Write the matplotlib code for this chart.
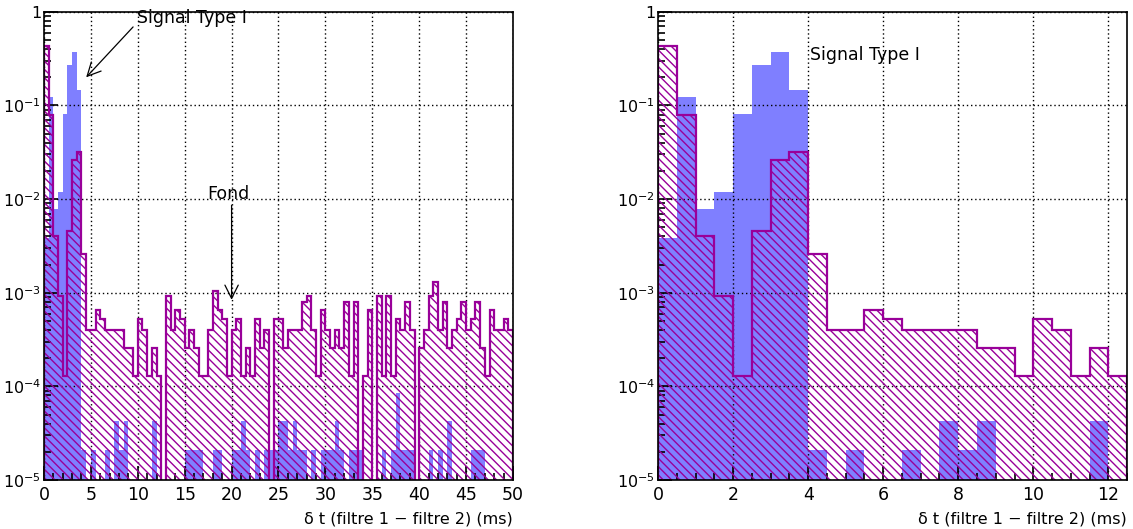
import numpy as np
import matplotlib
matplotlib.use("Agg")
import matplotlib.pyplot as plt
from matplotlib.ticker import FixedLocator, MultipleLocator, NullFormatter

# -- data: normalised delta-t distributions, 0.5 ms bins from 0 to 50 ms --
bin_width = 0.5
n_bins = 100

# background ("Fond"), read bin by bin
fond = [
    0.43, 0.080, 0.0040, 9.2e-4, 1.3e-4, 0.0046, 0.026, 0.0316, 0.0026, 4.0e-4,
    4.0e-4, 6.6e-4, 5.3e-4, 4.0e-4, 4.0e-4, 4.0e-4, 4.0e-4, 2.6e-4, 2.6e-4, 1.3e-4,
    5.3e-4, 4.0e-4, 1.3e-4, 2.6e-4, 1.3e-4, 0.0, 9.2e-4, 4.0e-4, 6.6e-4, 5.3e-4,
    2.6e-4, 4.0e-4, 2.6e-4, 1.3e-4, 1.3e-4, 4.0e-4, 1.05e-3, 6.6e-4, 5.3e-4, 1.3e-4,
    4.0e-4, 5.3e-4, 1.3e-4, 2.6e-4, 1.3e-4, 5.3e-4, 2.6e-4, 4.0e-4, 0.0, 5.3e-4,
    5.3e-4, 2.6e-4, 4.0e-4, 4.0e-4, 4.0e-4, 7.9e-4, 9.2e-4, 4.0e-4, 1.3e-4, 6.6e-4,
    4.0e-4, 2.6e-4, 4.0e-4, 2.6e-4, 7.9e-4, 1.3e-4, 7.9e-4, 0.0, 1.3e-4, 6.6e-4,
    0.0, 9.2e-4, 1.3e-4, 9.2e-4, 1.3e-4, 5.3e-4, 4.0e-4, 7.9e-4, 4.0e-4, 0.0,
    2.6e-4, 4.0e-4, 9.2e-4, 1.3e-3, 4.0e-4, 7.9e-4, 2.6e-4, 4.0e-4, 5.3e-4, 7.9e-4,
    4.0e-4, 5.3e-4, 7.9e-4, 2.6e-4, 1.3e-4, 6.6e-4, 4.0e-4, 4.0e-4, 5.3e-4, 4.0e-4,
]

# signal type I
signal = [
    0.0038, 0.123, 0.0078, 0.012, 0.082, 0.27, 0.37, 0.146, 2.1e-5, 0.0,
    2.1e-5, 0.0, 0.0, 2.1e-5, 0.0, 4.3e-5, 2.1e-5, 4.3e-5, 0.0, 0.0,
    0.0, 0.0, 0.0, 4.3e-5, 0.0, 0.0, 0.0, 0.0, 0.0, 0.0,
    2.1e-5, 2.1e-5, 2.1e-5, 2.1e-5, 0.0, 0.0, 2.1e-5, 2.1e-5, 0.0, 0.0,
    2.1e-5, 2.1e-5, 4.3e-5, 2.1e-5, 0.0, 2.1e-5, 0.0, 2.1e-5, 2.1e-5, 2.1e-5,
    4.3e-5, 4.3e-5, 2.1e-5, 4.3e-5, 2.1e-5, 2.1e-5, 0.0, 2.1e-5, 0.0, 2.1e-5,
    2.1e-5, 2.1e-5, 4.3e-5, 2.1e-5, 0.0, 2.1e-5, 2.1e-5, 2.1e-5, 0.0, 0.0,
    0.0, 0.0, 2.1e-5, 0.0, 2.1e-5, 8.6e-5, 2.1e-5, 2.1e-5, 2.1e-5, 0.0,
    0.0, 0.0, 2.1e-5, 0.0, 2.1e-5, 0.0, 4.3e-5, 0.0, 0.0, 0.0,
    0.0, 2.1e-5, 2.1e-5, 2.1e-5, 0.0, 0.0, 0.0, 0.0, 0.0, 0.0,
]

y_ticks = [1e-5, 1e-4, 1e-3, 1e-2, 1e-1, 1]
y_labels = [r"$10^{-5}$", r"$10^{-4}$", r"$10^{-3}$", r"$10^{-2}$", r"$10^{-1}$", "1"]
x_label = "δ t (filtre 1 − filtre 2) (ms)"

BLUE = "#7f7fff"
MAG = "#990099"
FLOOR = 1e-9  # empty bins drop to the bottom of the log axis

plt.rcParams["font.family"] = ["DejaVu Sans"]
plt.rcParams["hatch.linewidth"] = 1.0

edges = np.arange(n_bins + 1) * bin_width
fond_arr = np.where(np.array(fond) > 0, fond, FLOOR)
sig_arr = np.where(np.array(signal) > 0, signal, FLOOR)

fig = plt.figure(figsize=(11.33, 5.29), dpi=100)
ax_l = fig.add_axes([0.0388, 0.0926, 0.414, 0.885])
ax_r = fig.add_axes([0.5808, 0.0926, 0.414, 0.885])


def draw_panel(ax, xmax, major, minor):
    ax.stairs(sig_arr, edges, baseline=FLOOR, fill=True, color=BLUE, lw=0, zorder=2)
    ax.stairs(fond_arr, edges, baseline=FLOOR, fill=True, facecolor="none",
              edgecolor=MAG, hatch="\\\\\\\\", lw=0, zorder=3)
    ax.stairs(fond_arr, edges, baseline=FLOOR, fill=False, color=MAG, lw=1.6, zorder=4)

    ax.set_yscale("log")
    ax.set_ylim(1e-5, 1)
    ax.set_xlim(0, xmax)

    ax.yaxis.set_major_locator(FixedLocator(y_ticks))
    ax.set_yticklabels(y_labels)
    ax.yaxis.set_minor_locator(matplotlib.ticker.LogLocator(base=10, subs=np.arange(2, 10)))
    ax.yaxis.set_minor_formatter(NullFormatter())
    ax.xaxis.set_major_locator(MultipleLocator(major))
    ax.xaxis.set_minor_locator(MultipleLocator(minor))

    ax.tick_params(which="both", direction="in", top=False, right=False,
                   width=1.2)
    ax.tick_params(axis="x", labelsize=12.5, pad=4)
    ax.tick_params(axis="y", labelsize=11.5, pad=2)
    ax.tick_params(which="major", length=10)
    ax.tick_params(which="minor", length=5)
    ax.grid(True, which="major", color="black", linestyle=(0, (1, 2)), lw=1.0, zorder=1)
    ax.set_axisbelow(False)
    for sp in ax.spines.values():
        sp.set_linewidth(1.2)
        sp.set_zorder(5)
    ax.set_xlabel(x_label, fontsize=11.5, loc="right", labelpad=6)


draw_panel(ax_l, 50, 5, 1)
draw_panel(ax_r, 12.5, 2, 0.5)

arrow = dict(arrowstyle="->", color="black", lw=0.9, mutation_scale=24)

# annotations, left panel
ax_l.text(9.9, 0.86, "Signal Type I", fontsize=12.5, va="center", ha="left", zorder=6)
ax_l.annotate("", xy=(4.5, 0.2), xytext=(9.5, 0.69),
              arrowprops=dict(arrow, shrinkA=0, shrinkB=0), zorder=6)
ax_l.text(19.7, 0.0113, "Fond", fontsize=12.5, va="center", ha="center", zorder=6)
ax_l.annotate("", xy=(20, 8.4e-4), xytext=(20, 8.6e-3),
              arrowprops=dict(arrow, shrinkA=0, shrinkB=0), zorder=6)

# annotation, right panel
ax_r.text(4.05, 0.345, "Signal Type I", fontsize=12.5, va="center", ha="left", zorder=6)

fig.savefig("out.png", dpi=100)
